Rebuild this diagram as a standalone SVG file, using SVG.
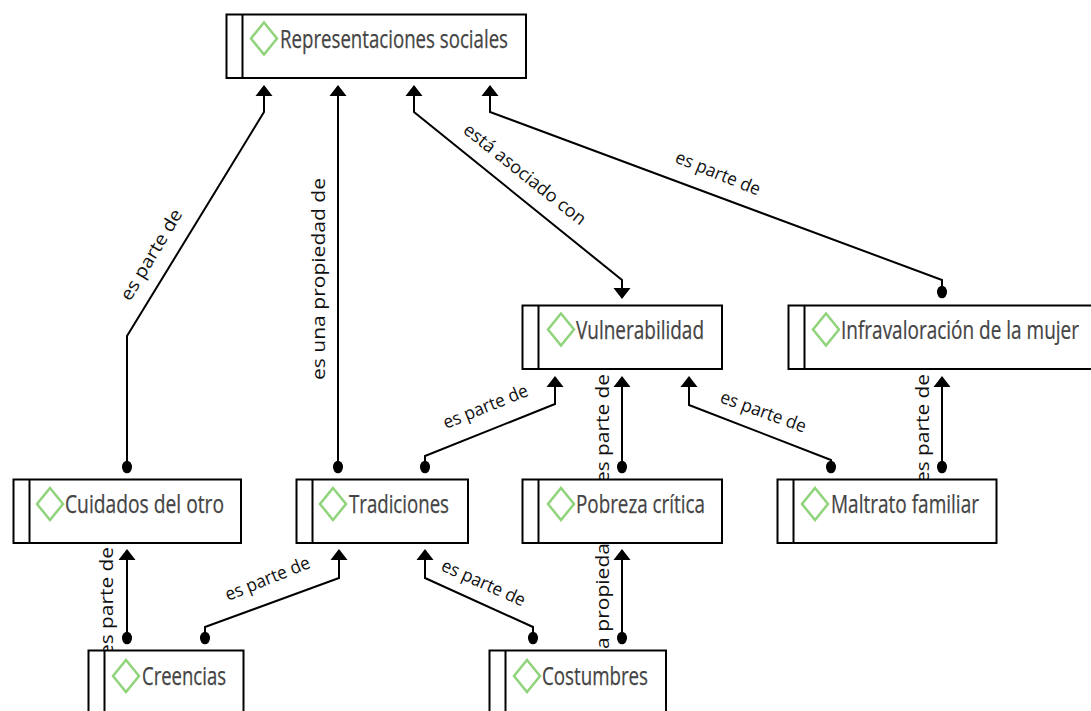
<svg xmlns="http://www.w3.org/2000/svg" width="1091" height="711" viewBox="0 0 1091 711">
<style>
.box{fill:#fff;stroke:#000;stroke-width:2}
.div{stroke:#000;stroke-width:2;fill:none}
.dia{fill:#fff;stroke:#8fd47a;stroke-width:2.5}
.name{font-family:"Open Sans","Liberation Sans",sans-serif;font-size:25px;fill:#444;stroke:#444;stroke-width:.25}
.line{fill:none;stroke:#000;stroke-width:2}
.lbl{font-family:"Open Sans","Liberation Sans",sans-serif;font-size:18px;fill:#111}
</style>
<defs>
<path id="up" d="M-8.5 11L0 0L8.5 11Z" fill="#000"/>
<ellipse id="dot" rx="5" ry="6.3" fill="#000"/>
<path id="dia" class="dia" d="M0 -16L13 0L0 16L-13 0Z"/>
</defs>
<rect width="1091" height="711" fill="#fff"/>
<g id="connectors">
<path class="line" d="M264 95V112L127 336V462"/><use href="#up" x="264" y="85"/><use href="#dot" x="127" y="467"/>
<path class="line" d="M338 95V462"/><use href="#up" x="338" y="85"/><use href="#dot" x="338" y="467"/>
<path class="line" d="M414 95V112L622 280V288"/><use href="#up" x="414" y="85"/><path d="M613.5 288L622 299L630.5 288Z"/>
<path class="line" d="M490 95V112L942 280V288"/><use href="#up" x="490" y="85"/><use href="#dot" x="942" y="292"/>
<path class="line" d="M555 386V404L425 456V462"/><use href="#up" x="555" y="376"/><use href="#dot" x="425" y="467"/>
<path class="line" d="M622 386V462"/><use href="#up" x="622" y="376"/><use href="#dot" x="622" y="467"/>
<path class="line" d="M689 386V405L831 460V462"/><use href="#up" x="689" y="376"/><use href="#dot" x="831" y="467"/>
<path class="line" d="M942 386V462"/><use href="#up" x="942" y="376"/><use href="#dot" x="942" y="467"/>
<path class="line" d="M127 560V633"/><use href="#up" x="127" y="549"/><use href="#dot" x="127" y="638"/>
<path class="line" d="M339 560V578L205 627V633"/><use href="#up" x="339" y="549"/><use href="#dot" x="205" y="638"/>
<path class="line" d="M425 560V578L533 627V633"/><use href="#up" x="425" y="549"/><use href="#dot" x="533" y="638"/>
<path class="line" d="M622 560V633"/><use href="#up" x="622" y="549"/><use href="#dot" x="622" y="638"/>
<text class="lbl" transform="translate(130 302) rotate(-59)" textLength="103" lengthAdjust="spacingAndGlyphs">es parte de</text>
<text class="lbl" transform="translate(325 380) rotate(-90)" textLength="202" lengthAdjust="spacingAndGlyphs">es una propiedad de</text>
<text class="lbl" transform="translate(462 132) rotate(38.5)" textLength="151" lengthAdjust="spacingAndGlyphs">está asociado con</text>
<text class="lbl" transform="translate(674 162) rotate(22)" textLength="90" lengthAdjust="spacingAndGlyphs">es parte de</text>
<text class="lbl" transform="translate(446 429) rotate(-22)" textLength="90" lengthAdjust="spacingAndGlyphs">es parte de</text>
<text class="lbl" transform="translate(719 402) rotate(20)" textLength="90" lengthAdjust="spacingAndGlyphs">es parte de</text>
<text class="lbl" transform="translate(228 601) rotate(-22)" textLength="90" lengthAdjust="spacingAndGlyphs">es parte de</text>
<text class="lbl" transform="translate(440 570) rotate(24)" textLength="90" lengthAdjust="spacingAndGlyphs">es parte de</text>
<text class="lbl" transform="translate(609 483) rotate(-90)" textLength="109" lengthAdjust="spacingAndGlyphs">es parte de</text>
<text class="lbl" transform="translate(929 483) rotate(-90)" textLength="109" lengthAdjust="spacingAndGlyphs">es parte de</text>
<text class="lbl" transform="translate(113 656) rotate(-90)" textLength="109" lengthAdjust="spacingAndGlyphs">es parte de</text>
<text class="lbl" transform="translate(609 702) rotate(-90)" textLength="202" lengthAdjust="spacingAndGlyphs">es una propiedad de</text>
</g>
<g id="n-representaciones"><rect class="box" x="226.5" y="14.5" width="299.5" height="63.5"/><path class="div" d="M242.5 14V78"/><use href="#dia" x="264" y="38.5"/><text class="name" x="280" y="48" textLength="228" lengthAdjust="spacingAndGlyphs">Representaciones sociales</text></g>
<g id="n-vulnerabilidad"><rect class="box" x="522.5" y="305.5" width="199.5" height="63.5"/><path class="div" d="M538.5 305V369"/><use href="#dia" x="561" y="329.5"/><text class="name" x="576" y="339" textLength="128" lengthAdjust="spacingAndGlyphs">Vulnerabilidad</text></g>
<g id="n-infravaloracion"><rect class="box" x="788.5" y="305.5" width="310" height="63.5"/><path class="div" d="M804.5 305V369"/><use href="#dia" x="826" y="329.5"/><text class="name" transform="translate(841 339) scale(.74 1)" textLength="321.6" lengthAdjust="spacingAndGlyphs">Infravaloración de la mujer</text></g>
<g id="n-cuidados"><rect class="box" x="13.5" y="479.5" width="227.5" height="63.5"/><path class="div" d="M29.5 479V543"/><use href="#dia" x="50" y="504"/><text class="name" x="65" y="513" textLength="159" lengthAdjust="spacingAndGlyphs">Cuidados del otro</text></g>
<g id="n-tradiciones"><rect class="box" x="296.5" y="479.5" width="171.5" height="63.5"/><path class="div" d="M312.5 479V543"/><use href="#dia" x="333" y="504"/><text class="name" x="349" y="513" textLength="100" lengthAdjust="spacingAndGlyphs">Tradiciones</text></g>
<g id="n-pobreza"><rect class="box" x="522.5" y="479.5" width="199.5" height="63.5"/><path class="div" d="M538.5 479V543"/><use href="#dia" x="561" y="504"/><text class="name" x="576" y="513" textLength="129" lengthAdjust="spacingAndGlyphs">Pobreza crítica</text></g>
<g id="n-maltrato"><rect class="box" x="777.5" y="479.5" width="219" height="63.5"/><path class="div" d="M793.5 479V543"/><use href="#dia" x="815" y="504"/><text class="name" x="831" y="513" textLength="148" lengthAdjust="spacingAndGlyphs">Maltrato familiar</text></g>
<g id="n-creencias"><rect class="box" x="88.5" y="650.5" width="155" height="70"/><path class="div" d="M104.5 650V711"/><use href="#dia" x="126" y="676"/><text class="name" x="142" y="685" textLength="84" lengthAdjust="spacingAndGlyphs">Creencias</text></g>
<g id="n-costumbres"><rect class="box" x="489.5" y="650.5" width="176.5" height="70"/><path class="div" d="M505.5 650V711"/><use href="#dia" x="527" y="676"/><text class="name" x="542" y="685" textLength="106" lengthAdjust="spacingAndGlyphs">Costumbres</text></g>
</svg>
